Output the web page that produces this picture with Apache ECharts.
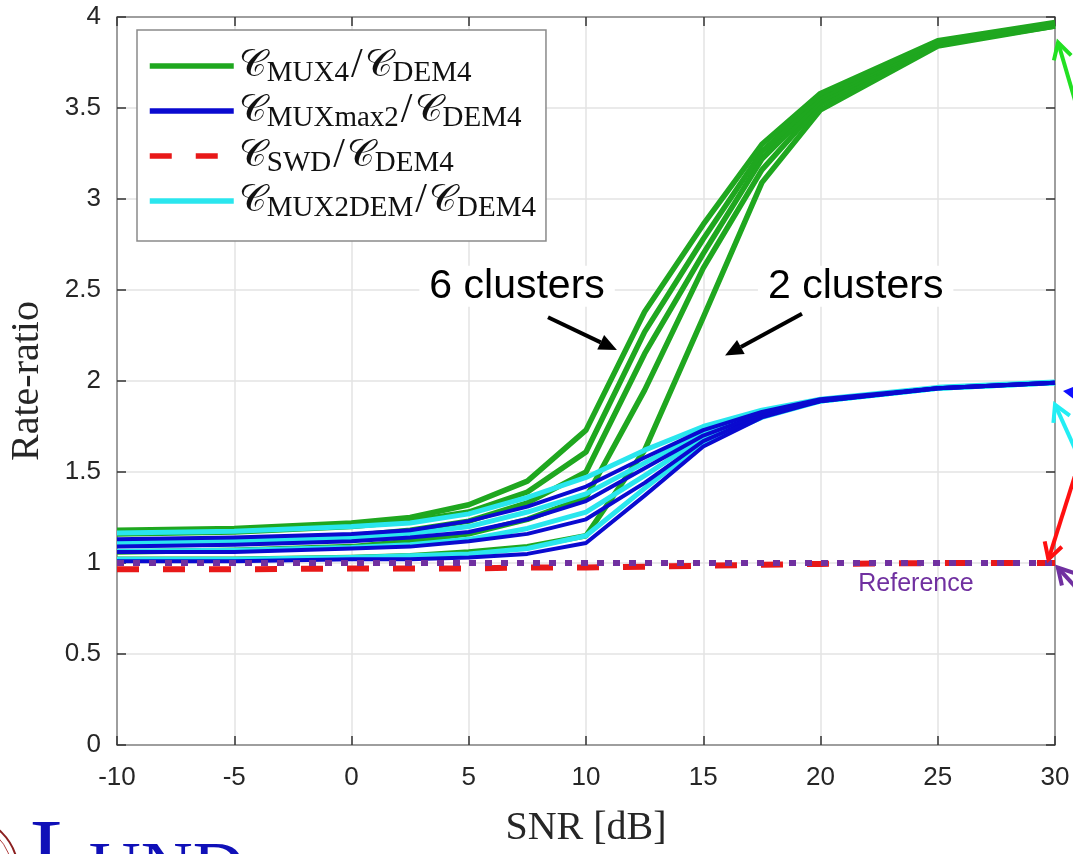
<!DOCTYPE html>
<html><head><meta charset="utf-8">
<script src="https://cdn.jsdelivr.net/npm/echarts@6/dist/echarts.min.js"></script>
<style>html,body{margin:0;padding:0;background:#fff}#c{width:1073px;height:854px}</style>
</head><body><div id="c"></div>
<script>
// SNR grid [dB]
const snr = [-10, -5, 0, 2.5, 5, 7.5, 10, 12.5, 15, 17.5, 20, 25, 30];
// C_MUX4 / C_DEM4 (green)
const mux4_1 = [1.18, 1.19, 1.22, 1.25, 1.32, 1.45, 1.73, 2.38, 2.86, 3.30, 3.58, 3.87, 3.97];
const mux4_2 = [1.16, 1.17, 1.20, 1.23, 1.28, 1.39, 1.61, 2.27, 2.78, 3.26, 3.56, 3.86, 3.96];
const mux4_3 = [1.11, 1.12, 1.15, 1.18, 1.23, 1.33, 1.50, 2.15, 2.70, 3.22, 3.54, 3.86, 3.96];
const mux4_4 = [1.06, 1.07, 1.09, 1.12, 1.16, 1.24, 1.36, 1.95, 2.62, 3.16, 3.52, 3.85, 3.95];
const mux4_5 = [1.02, 1.02, 1.03, 1.04, 1.06, 1.09, 1.15, 1.62, 2.35, 3.09, 3.49, 3.84, 3.95];
// C_MUXmax2 / C_DEM4 (blue)
const muxmax2_1 = [1.13, 1.14, 1.16, 1.18, 1.23, 1.31, 1.42, 1.58, 1.73, 1.83, 1.90, 1.96, 1.99];
const muxmax2_2 = [1.09, 1.10, 1.12, 1.14, 1.17, 1.24, 1.34, 1.52, 1.70, 1.82, 1.89, 1.96, 1.99];
const muxmax2_3 = [1.06, 1.06, 1.08, 1.09, 1.12, 1.16, 1.24, 1.44, 1.67, 1.81, 1.89, 1.96, 1.99];
const muxmax2_4 = [1.01, 1.01, 1.02, 1.02, 1.03, 1.05, 1.11, 1.37, 1.64, 1.80, 1.89, 1.96, 1.99];
// C_SWD / C_DEM4 (red dashed)
const swd = [0.965, 0.965, 0.97, 0.97, 0.97, 0.975, 0.975, 0.98, 0.985, 0.99, 0.995, 1.0, 1.0];
// C_MUX2DEM / C_DEM4 (cyan)
const mux2dem_1 = [1.165, 1.175, 1.20, 1.22, 1.27, 1.36, 1.47, 1.62, 1.75, 1.84, 1.90, 1.965, 1.995];
const mux2dem_2 = [1.11, 1.12, 1.14, 1.16, 1.20, 1.28, 1.38, 1.55, 1.72, 1.82, 1.89, 1.96, 1.99];
const mux2dem_3 = [1.065, 1.07, 1.085, 1.10, 1.13, 1.19, 1.28, 1.48, 1.69, 1.81, 1.89, 1.96, 1.99];
const mux2dem_4 = [1.02, 1.02, 1.03, 1.04, 1.05, 1.08, 1.15, 1.41, 1.66, 1.80, 1.89, 1.96, 1.99];
// Reference (purple dotted)
const reference = [1, 1, 1, 1, 1, 1, 1, 1, 1, 1, 1, 1, 1];

const xTicks = [-10, -5, 0, 5, 10, 15, 20, 25, 30];
const yTicks = [0, 0.5, 1, 1.5, 2, 2.5, 3, 3.5, 4];

const legendNames = ['MUX4', 'MUXmax2', 'SWD', 'MUX2DEM'];

const GREEN = '#1fa71f', BLUE = '#0a0ad0', RED = '#e81818', CYAN = '#2ae6ee', PURPLE = '#7030a0';

function mk(name, arr, color, width, z, type) {
  return {
    type: 'line', name: name, data: snr.map((x, i) => [x, arr[i]]),
    symbol: 'none', showSymbol: false, z: z, silent: true, animation: false,
    lineStyle: { color: color, width: width, type: type || 'solid', cap: 'butt', join: 'round' },
    itemStyle: { color: color }
  };
}

const series = [];
[mux4_5, mux4_4, mux4_3, mux4_2, mux4_1].forEach(a => series.push(mk('MUX4', a, GREEN, 5.5, 2)));
[mux2dem_4, mux2dem_3, mux2dem_2, mux2dem_1].forEach(a => series.push(mk('MUX2DEM', a, CYAN, 5, 3)));
[muxmax2_4, muxmax2_3, muxmax2_2, muxmax2_1].forEach(a => series.push(mk('MUXmax2', a, BLUE, 4, 4)));
series.push(mk('SWD', swd, RED, 6, 5, [22, 24]));
series.push(mk('Reference', reference, PURPLE, 6, 6, [7, 9]));

const labelFont = { fontFamily: 'Liberation Sans', fontSize: 26, color: '#262626' };
const axisLine = { show: true, onZero: false, lineStyle: { color: '#858585', width: 1.5 } };
const tick = { show: true, inside: true, length: 9, lineStyle: { color: '#333', width: 1.5 } };

const legendText = {
  MUX4: '{c|𝒞}{s|MUX4}{sl|/}{c|𝒞}{s|DEM4}',
  MUXmax2: '{c|𝒞}{s|MUXmax2}{sl|/}{c|𝒞}{s|DEM4}',
  SWD: '{c|𝒞}{s|SWD}{sl|/}{c|𝒞}{s|DEM4}',
  MUX2DEM: '{c|𝒞}{s|MUX2DEM}{sl|/}{c|𝒞}{s|DEM4}'
};

const chart = echarts.init(document.getElementById('c'), null, { renderer: 'canvas' });
chart.setOption({
  animation: false,
  backgroundColor: '#fff',
  grid: { left: 117, right: 18, top: 17, bottom: 109, show: false, containLabel: false, outerBoundsMode: 'none' },
  legend: {
    data: legendNames, orient: 'vertical', left: 137, top: 30,
    itemWidth: 84, itemHeight: 12, itemGap: 2,
    padding: [15, 10, 18, 10],
    borderColor: '#8a8a8a', borderWidth: 1.5, backgroundColor: '#fff',
    selectedMode: false,
    itemStyle: { opacity: 0 },
    lineStyle: { width: 5.5 },
    formatter: n => legendText[n],
    textStyle: {
      rich: {
        c: { fontFamily: 'DejaVu Serif', fontSize: 38, color: '#111', lineHeight: 44, verticalAlign: 'middle' },
        s: { fontFamily: 'Liberation Serif', fontSize: 29, color: '#111', lineHeight: 20, verticalAlign: 'bottom' },
        sl: { fontFamily: 'Liberation Serif', fontSize: 42, color: '#111', lineHeight: 44, verticalAlign: 'middle', padding: [0, 2, 0, 2] }
      }
    }
  },
  xAxis: [{
    type: 'value', min: -10, max: 30, interval: 5,
    name: 'SNR [dB]', nameLocation: 'middle', nameGap: 63,
    nameTextStyle: { fontFamily: 'Liberation Serif', fontSize: 40, color: '#262626' },
    axisLine: axisLine, axisTick: tick,
    axisLabel: Object.assign({ margin: 20 }, labelFont),
    splitLine: { show: true, lineStyle: { color: '#e3e3e3', width: 1.5 } }
  }, {
    type: 'value', min: -10, max: 30, interval: 5, position: 'top',
    axisLine: axisLine, axisTick: tick,
    axisLabel: { show: false }, splitLine: { show: false }
  }],
  yAxis: [{
    type: 'value', min: 0, max: 4, interval: 0.5,
    name: 'Rate-ratio', nameLocation: 'middle', nameGap: 70, nameRotate: 90,
    nameTextStyle: { fontFamily: 'Liberation Serif', fontSize: 40, color: '#262626' },
    axisLine: axisLine, axisTick: tick,
    axisLabel: Object.assign({ margin: 16 }, labelFont),
    splitLine: { show: true, lineStyle: { color: '#e3e3e3', width: 1.5 } }
  }, {
    type: 'value', min: 0, max: 4, interval: 0.5, position: 'right',
    axisLine: axisLine, axisTick: tick,
    axisLabel: { show: false }, splitLine: { show: false }
  }],
  series: series
});

// annotation anchors in data coordinates [SNR, ratio]
const labels = [
  { text: '6 clusters', at: [7.06, 2.52] },
  { text: '2 clusters', at: [21.5, 2.52] }
];
const blackArrows = [
  { from: [8.38, 2.35], to: [11.32, 2.17] },
  { from: [19.21, 2.37], to: [15.93, 2.14] }
];
const sideArrows = [
  { from: [30.9, 3.52], to: [30.13, 3.86], color: '#22e022', head: 'open' },
  { from: [31.2, 1.93], to: [30.34, 1.945], color: '#1010ff', head: 'filled' },
  { from: [30.95, 1.60], to: [30.0, 1.87], color: '#22eef4', head: 'open' },
  { from: [31.0, 1.54], to: [29.72, 1.02], color: '#ff1010', head: 'open' },
  { from: [31.0, 0.85], to: [30.12, 0.975], color: PURPLE, head: 'open' }
];
const refLabel = { text: 'Reference', at: [24.07, 0.885] };

function px(p) { return chart.convertToPixel({ xAxisIndex: 0, yAxisIndex: 0 }, p); }

function arrow(a, b, color, w, head, hl, hw) {
  const dx = b[0] - a[0], dy = b[1] - a[1];
  const L = Math.hypot(dx, dy), ux = dx / L, uy = dy / L;
  const nx = -uy, ny = ux;
  const base = [b[0] - ux * hl, b[1] - uy * hl];
  const out = [];
  const shaftEnd = head === 'filled' ? base : b;
  out.push({ type: 'line', shape: { x1: a[0], y1: a[1], x2: shaftEnd[0], y2: shaftEnd[1] },
    style: { stroke: color, lineWidth: w, lineCap: 'butt' }, z: 100 });
  const p1 = [base[0] + nx * hw, base[1] + ny * hw], p2 = [base[0] - nx * hw, base[1] - ny * hw];
  if (head === 'filled') {
    out.push({ type: 'polygon', shape: { points: [b, p1, p2] }, style: { fill: color }, z: 100 });
  } else {
    out.push({ type: 'polyline', shape: { points: [p1, b, p2] },
      style: { stroke: color, lineWidth: w, fill: null, lineJoin: 'miter' }, z: 100 });
  }
  return out;
}

const g = [];
labels.forEach(l => {
  const p = px(l.at);
  g.push({ type: 'text', x: p[0], y: p[1], z: 90,
    style: { text: l.text, fontFamily: 'Liberation Sans', fontSize: 41, fill: '#000',
      align: 'center', verticalAlign: 'middle', backgroundColor: '#fff', padding: [0, 10] } });
});
blackArrows.forEach(a => g.push(...arrow(px(a.from), px(a.to), '#000', 4, 'filled', 18, 8)));
sideArrows.forEach(a => g.push(...arrow(px(a.from), px(a.to), a.color, 4, a.head, 16, 9)));
(function () {
  const p = px(refLabel.at);
  g.push({ type: 'text', x: p[0], y: p[1], z: 90,
    style: { text: refLabel.text, fontFamily: 'Liberation Sans', fontSize: 25, fill: PURPLE,
      align: 'center', verticalAlign: 'middle' } });
})();
// Lund logo, cut off at the bottom-left corner
g.push({ type: 'circle', shape: { cx: -38, cy: 872, r: 56 }, style: { fill: null, stroke: '#8b2020', lineWidth: 2 }, z: 90 });
g.push({ type: 'circle', shape: { cx: -38, cy: 872, r: 50 }, style: { fill: null, stroke: '#b04040', lineWidth: 1 }, z: 90 });
g.push({ type: 'text', x: 30, y: 812, z: 90,
  style: { text: '{a|L}{b|UND}', rich: {
    a: { fontFamily: 'Liberation Serif', fontSize: 96, fill: '#1010b8', verticalAlign: 'top', lineHeight: 96 },
    b: { fontFamily: 'Liberation Serif', fontSize: 72, fill: '#1010b8', verticalAlign: 'bottom', lineHeight: 60 } } } });
chart.setOption({ graphic: g });
</script>
</body></html>
